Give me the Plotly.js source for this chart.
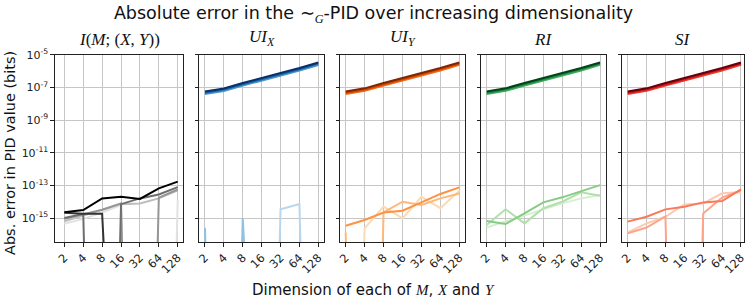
<!DOCTYPE html>
<html><head><meta charset="utf-8">
<script src="https://cdn.plot.ly/plotly-3.0.1.min.js"></script>
<style>html,body{margin:0;padding:0;background:#fff}#chart{width:747px;height:306px}</style>
</head><body><div id="chart"></div>
<script>
// ---- data ----
const dims = [2, 4, 8, 16, 32, 64, 128];
const xTickText = ['2', '4', '8', '16', '32', '64', '128'];
const yTickVals = [1e-15, 1e-13, 1e-11, 1e-9, 1e-7, 1e-5];
const yTickText = ['10<sup>-15</sup>', '10<sup>-13</sup>', '10<sup>-11</sup>', '10<sup>-9</sup>', '10<sup>-7</sup>', '10<sup>-5</sup>'];
const panelTitles = [
  '<i>I</i>(<i>M</i>; (<i>X</i>, <i>Y</i>))',
  '<i>UI<sub>X</sub></i>',
  '<i>UI<sub>Y</sub></i>',
  '<i>RI</i>',
  '<i>SI</i>'
];

// each panel: six series, lightest first (0 = exactly zero error)
const errMI = [
  [4.5e-16, 8.9e-16, 2.2e-15, 6.3e-15, 0, 0, 1.26e-14],
  [6.3e-16, 1.4e-15, 3.2e-15, 7.1e-15, 7.9e-15, 1.6e-14, 5.0e-14],
  [8.9e-16, 1.6e-15, 3.2e-15, 7.9e-15, 0, 1.8e-14, 5.6e-14],
  [1.0e-15, 1.8e-15, 0, 7.1e-15, 1.6e-14, 2.8e-14, 7.9e-14],
  [2.1e-15, 1.8e-15, 1.8e-15, 0, 0, 0, 0],
  [2.24e-15, 3.1e-15, 1.58e-14, 2.04e-14, 1.48e-14, 6.6e-14, 1.7e-13]
];
const errUIX = [
  [0, 0, 0, 0, 0, 0, 0],
  [0, 0, 0, 0, 3.5e-15, 7.2e-15, 0],
  [2.5e-16, 0, 9.5e-16, 0, 0, 0, 0],
  [4.0e-8, 6.2e-8, 1.33e-7, 2.65e-7, 5.2e-7, 1.1e-6, 2.45e-6],
  [4.9e-8, 7.6e-8, 1.6e-7, 3.2e-7, 6.3e-7, 1.35e-6, 2.95e-6],
  [5.75e-8, 8.9e-8, 1.9e-7, 3.8e-7, 7.4e-7, 1.58e-6, 3.47e-6]
];
const errUIY = [
  [0, 2.3e-16, 5.0e-15, 9.5e-16, 2.0e-14, 4.0e-15, 4.7e-14],
  [1.3e-16, 0, 2.2e-15, 1.0e-14, 6.3e-15, 1.6e-14, 3.2e-14],
  [3.4e-16, 7.6e-16, 2.2e-15, 2.8e-15, 9.1e-15, 3.0e-14, 7.6e-14],
  [4.1e-8, 6.3e-8, 1.35e-7, 2.7e-7, 5.3e-7, 1.12e-6, 2.5e-6],
  [4.9e-8, 7.7e-8, 1.62e-7, 3.25e-7, 6.4e-7, 1.36e-6, 3.0e-6],
  [5.8e-8, 9.0e-8, 1.92e-7, 3.85e-7, 7.5e-7, 1.6e-6, 3.5e-6]
];
const errRI = [
  [2.6e-16, 6.0e-16, 1.5e-15, 3.1e-15, 7.9e-15, 1.6e-14, 2.6e-14],
  [3.7e-16, 3.5e-15, 4.7e-16, 4.0e-15, 1.0e-14, 3.8e-14, 2.3e-14],
  [6.6e-16, 4.3e-16, 1.95e-15, 9.1e-15, 1.86e-14, 4.2e-14, 1.05e-13],
  [4.1e-8, 6.3e-8, 1.34e-7, 2.68e-7, 5.3e-7, 1.12e-6, 2.5e-6],
  [4.9e-8, 7.7e-8, 1.61e-7, 3.22e-7, 6.4e-7, 1.36e-6, 3.0e-6],
  [5.8e-8, 9.0e-8, 1.91e-7, 3.82e-7, 7.5e-7, 1.6e-6, 3.5e-6]
];
const errSI = [
  [1.3e-16, 4.7e-16, 1.2e-15, 6.9e-15, 7.9e-15, 3.3e-14, 3.8e-14],
  [1.15e-16, 2.6e-16, 1.26e-15, 0, 1.9e-15, 1.8e-14, 5.0e-14],
  [6.0e-16, 1.2e-15, 3.4e-15, 4.9e-15, 9.1e-15, 1.1e-14, 5.8e-14],
  [4.1e-8, 6.3e-8, 1.35e-7, 2.7e-7, 5.3e-7, 1.12e-6, 2.5e-6],
  [4.9e-8, 7.7e-8, 1.62e-7, 3.25e-7, 6.4e-7, 1.36e-6, 3.0e-6],
  [5.8e-8, 9.0e-8, 1.92e-7, 3.85e-7, 7.5e-7, 1.6e-6, 3.5e-6]
];
const colorsMI  = ['#e2e2e2', '#bdbdbd', '#969696', '#6e6e6e', '#333333', '#000000'];
const colorsUIX = ['#deebf7', '#b9d6ee', '#8fc2e0', '#4a98c9', '#1c62a8', '#08306b'];
const colorsUIY = ['#fdd9b4', '#fdb87a', '#fd9243', '#f16913', '#d14501', '#7f2704'];
const colorsRI  = ['#d6efd0', '#b2e0ab', '#86cc85', '#41ab5d', '#1f8440', '#00441b'];
const colorsSI  = ['#fdcab5', '#fca588', '#fb7858', '#ef3b2c', '#c4161c', '#67000d'];

// ---- drawing ----
const panels = [
  {err: errMI, colors: colorsMI},
  {err: errUIX, colors: colorsUIX},
  {err: errUIY, colors: colorsUIY},
  {err: errRI, colors: colorsRI},
  {err: errSI, colors: colorsSI}
];
const W = 747, H = 306;
const L2 = Math.log10(2);
// plot boxes in pixels
const boxes = [[54.9, 183.4], [199.3, 324], [340, 465], [481, 605.7], [622, 743.8]];
const xRanges = [[0.5, 7.3], [0.7, 7.3], [0.7, 7.3], [0.7, 7.3], [0.7, 7.15]];
const yTop = 54.5, yBot = 242;
const FLOOR = 1e-60; // zero errors are clipped below the log axis, as matplotlib does

const traces = [];
const layout = {
  width: W, height: H,
  margin: {l: 0, r: 0, t: 0, b: 0},
  paper_bgcolor: '#fff', plot_bgcolor: '#fff',
  showlegend: false,
  font: {family: 'DejaVu Sans', color: '#222'},
  title: {
    text: 'Absolute error in the <span style="font-family:Liberation Serif">∼<sub><i>G</i></sub></span>-PID over increasing dimensionality',
    x: 0.5, xref: 'container', xanchor: 'center',
    y: 1 - 13 / H, yref: 'container', yanchor: 'middle',
    font: {family: 'DejaVu Sans', size: 17.5, color: '#111'}
  },
  annotations: []
};

panels.forEach((p, i) => {
  const n = i === 0 ? '' : String(i + 1);
  p.err.forEach((s, k) => {
    traces.push({
      type: 'scatter', mode: 'lines',
      x: dims, y: s.map(v => (v > 0 ? v : FLOOR)),
      xaxis: 'x' + n, yaxis: 'y' + n,
      line: {color: p.colors[k], width: 2},
      hoverinfo: 'skip'
    });
  });
  const common = {
    showgrid: true, gridcolor: '#c6c6c6', gridwidth: 1,
    showline: true, linecolor: '#222', linewidth: 1, mirror: true,
    ticks: 'outside', ticklen: 3.5, tickcolor: '#222', tickwidth: 1,
    zeroline: false, fixedrange: true, ticklabeloverflow: 'allow'
  };
  layout['xaxis' + n] = Object.assign({}, common, {
    type: 'log',
    range: [xRanges[i][0] * L2, xRanges[i][1] * L2],
    domain: [boxes[i][0] / W, boxes[i][1] / W],
    anchor: 'y' + n,
    tickmode: 'array', tickvals: dims, ticktext: xTickText,
    tickangle: -45,
    tickfont: {family: 'DejaVu Sans', size: 11.5, color: '#222'}
  });
  layout['yaxis' + n] = Object.assign({}, common, {
    type: 'log',
    range: [-16.47, -4.97],
    domain: [1 - yBot / H, 1 - yTop / H],
    anchor: 'x' + n,
    tickmode: 'array', tickvals: yTickVals, ticktext: yTickText,
    showticklabels: i === 0,
    tickfont: {family: 'DejaVu Sans', size: 11, color: '#222'}
  });
  layout.annotations.push({
    text: panelTitles[i],
    xref: 'paper', yref: 'paper',
    x: (boxes[i][0] + boxes[i][1]) / 2 / W, xanchor: 'center',
    y: 1 - 51 / H, yanchor: 'bottom',
    showarrow: false,
    font: {family: 'Liberation Serif', size: 17, color: '#111'}
  });
});

layout.annotations.push({
  text: 'Abs. error in PID value (bits)',
  xref: 'paper', yref: 'paper', x: 10 / W, y: 0.5,
  xanchor: 'center', yanchor: 'middle', textangle: -90, showarrow: false,
  font: {family: 'DejaVu Sans', size: 14.5, color: '#111'}
});
layout.annotations.push({
  text: 'Dimension of each of <span style="font-family:Liberation Serif"><i>M</i></span>, <span style="font-family:Liberation Serif"><i>X</i></span> and <span style="font-family:Liberation Serif"><i>Y</i></span>',
  xref: 'paper', yref: 'paper', x: 0.5, y: 1 - 290 / H,
  xanchor: 'center', yanchor: 'middle', showarrow: false,
  font: {family: 'DejaVu Sans', size: 15, color: '#111'}
});

Plotly.newPlot('chart', traces, layout, {staticPlot: true, displayModeBar: false});
</script>
</body></html>
